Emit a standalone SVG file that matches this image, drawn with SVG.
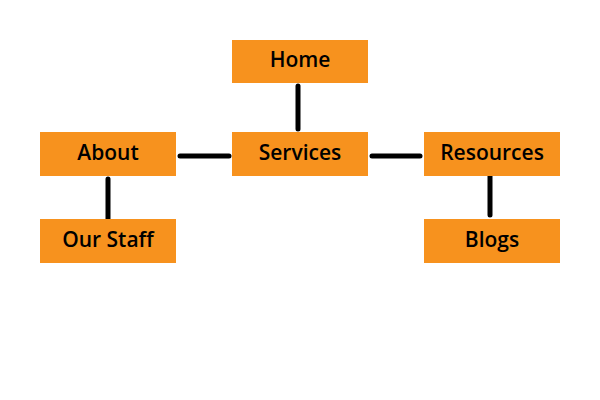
<svg xmlns="http://www.w3.org/2000/svg" width="600" height="400" viewBox="0 0 600 400">
<style>
.n{fill:#F7921E}
.t{font-family:"Open Sans","Liberation Sans",sans-serif;font-weight:600;font-size:21px;fill:#000;text-anchor:middle}
.c line{stroke:#000;stroke-width:5;stroke-linecap:round}
</style>
<rect width="600" height="400" fill="#fff"/>
<g class="c" id="connectors">
<line x1="298" y1="86" x2="298" y2="129"/>
<line x1="180" y1="156" x2="229" y2="156"/>
<line x1="372" y1="156" x2="420" y2="156"/>
<line x1="108" y1="179" x2="108" y2="221"/>
<line x1="490" y1="174" x2="490" y2="215"/>
</g>
<g id="home"><rect class="n" x="232" y="40" width="136" height="43"/><text class="t" x="300" y="67">Home</text></g>
<g id="about"><rect class="n" x="40" y="132" width="136" height="44"/><text class="t" x="108" y="160">About</text></g>
<g id="services"><rect class="n" x="232" y="132" width="136" height="44"/><text class="t" x="300" y="160">Services</text></g>
<g id="resources"><rect class="n" x="424" y="132" width="136" height="44"/><text class="t" x="492" y="160">Resources</text></g>
<g id="ourstaff"><rect class="n" x="40" y="219" width="136" height="44"/><text class="t" x="108" y="247">Our Staff</text></g>
<g id="blogs"><rect class="n" x="424" y="219" width="136" height="44"/><text class="t" x="492" y="247">Blogs</text></g>
</svg>
